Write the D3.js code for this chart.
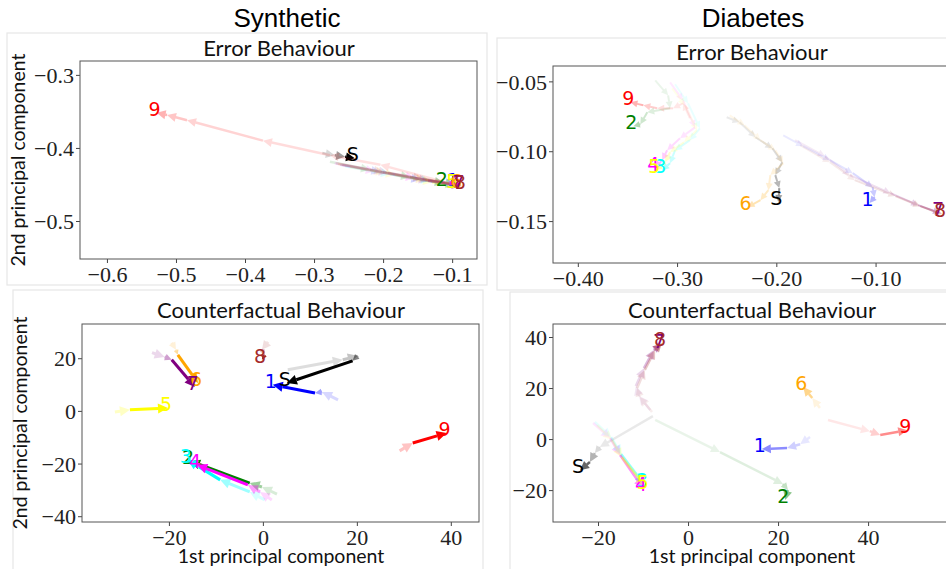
<!DOCTYPE html>
<html>
<head>
<meta charset="utf-8">
<script src="https://cdn.jsdelivr.net/npm/d3@7"></script>
<style>
  body { margin: 0; background: #fff; }
  svg { display: block; }
  .tick text { font-family: "Liberation Serif", serif; font-size: 22px; fill: #222; }
  .tick line { stroke: #444; }
  .ptitle { font-family: Lato, "Open Sans", sans-serif; font-size: 22px; fill: #111; }
  .alabel { font-family: Lato, "Open Sans", sans-serif; font-size: 19.5px; fill: #111; }
  .dtitle { font-family: "Liberation Sans", Arial, sans-serif; font-size: 26px; fill: #000; }
  .lbl { font-family: "DejaVu Sans", sans-serif; font-size: 19px; }
</style>
</head>
<body>
<svg id="chart" width="946" height="569"></svg>
<script>
// classes, in drawing order, and their colours
const classes = ["S", "1", "2", "3", "4", "5", "6", "7", "8", "9"];
const classColors = ["black", "blue", "green", "cyan", "magenta", "yellow", "orange", "purple", "brown", "red"];

// trajectories in PCA space (pc1, pc2), one per class, same order as classes
const synErrorPaths = [
  [[-0.288, -0.407], [-0.270, -0.410], [-0.255, -0.412], [-0.241, -0.414]],
  [[-0.262, -0.423], [-0.204, -0.433], [-0.146, -0.444], [-0.096, -0.449]],
  [[-0.277, -0.419], [-0.219, -0.430], [-0.161, -0.440], [-0.112, -0.448]],
  [[-0.255, -0.425], [-0.190, -0.436], [-0.132, -0.445], [-0.096, -0.451]],
  [[-0.270, -0.421], [-0.212, -0.432], [-0.154, -0.441], [-0.093, -0.451]],
  [[-0.248, -0.426], [-0.183, -0.437], [-0.129, -0.447], [-0.097, -0.451]],
  [[-0.265, -0.422], [-0.197, -0.434], [-0.139, -0.444], [-0.091, -0.451]],
  [[-0.259, -0.423], [-0.193, -0.434], [-0.135, -0.445], [-0.088, -0.452]],
  [[-0.268, -0.421], [-0.200, -0.433], [-0.143, -0.442], [-0.086, -0.452]],
  [[-0.110, -0.447], [-0.204, -0.423], [-0.277, -0.410], [-0.374, -0.390], [-0.484, -0.362], [-0.513, -0.355], [-0.528, -0.352]]
];
const diaErrorPaths = [
  [[-0.250, -0.0757], [-0.237, -0.0793], [-0.221, -0.0900], [-0.204, -0.0979], [-0.194, -0.1079], [-0.201, -0.1171], [-0.197, -0.1264], [-0.198, -0.1364]],
  [[-0.193, -0.0886], [-0.173, -0.0964], [-0.146, -0.1064], [-0.123, -0.1157], [-0.103, -0.1257], [-0.101, -0.1329], [-0.106, -0.1371]],
  [[-0.322, -0.0493], [-0.309, -0.0600], [-0.307, -0.0693], [-0.330, -0.0721], [-0.337, -0.0807], [-0.344, -0.0821]],
  [[-0.302, -0.0521], [-0.289, -0.0657], [-0.277, -0.0836], [-0.287, -0.0921], [-0.302, -0.0993], [-0.307, -0.1086], [-0.315, -0.1136]],
  [[-0.307, -0.0507], [-0.294, -0.0636], [-0.282, -0.0829], [-0.297, -0.0907], [-0.310, -0.0993], [-0.315, -0.1064], [-0.322, -0.1121]],
  [[-0.305, -0.0550], [-0.292, -0.0671], [-0.280, -0.0850], [-0.293, -0.0936], [-0.307, -0.1007], [-0.312, -0.1079], [-0.321, -0.1136]],
  [[-0.247, -0.0743], [-0.232, -0.0814], [-0.216, -0.0921], [-0.201, -0.0993], [-0.193, -0.1086], [-0.206, -0.1171], [-0.208, -0.1279], [-0.216, -0.1350], [-0.229, -0.1400]],
  [[-0.181, -0.0921], [-0.151, -0.1036], [-0.126, -0.1171], [-0.085, -0.1300], [-0.057, -0.1386], [-0.035, -0.1443]],
  [[-0.176, -0.0957], [-0.146, -0.1079], [-0.121, -0.1207], [-0.080, -0.1321], [-0.055, -0.1393], [-0.033, -0.1450]],
  [[-0.287, -0.0764], [-0.294, -0.0657], [-0.304, -0.0693], [-0.320, -0.0693], [-0.334, -0.0671], [-0.347, -0.0650]]
];
const synCfPaths = [
  [[5.3, 15.6], [17.0, 19.4], [20.2, 20.9], [19.1, 19.0], [5.1, 10.6]],
  [[16.0, 4.2], [12.6, 7.2], [11.1, 6.8], [2.1, 9.9]],
  [[3.0, -31.6], [-0.2, -28.9], [-2.8, -27.4], [-15.5, -19.0]],
  [[0.4, -33.8], [-2.8, -30.8], [-9.1, -26.2], [-16.0, -18.6]],
  [[1.9, -33.8], [-0.6, -30.8], [-3.2, -28.1], [-14.0, -20.5]],
  [[-31.5, -0.4], [-28.3, 0.4], [-20.2, 1.1]],
  [[-19.4, 25.9], [-18.5, 23.2], [-18.1, 21.3], [-13.8, 10.6]],
  [[-23.6, 22.1], [-20.9, 20.5], [-19.4, 19.4], [-14.5, 9.1]],
  [[1.1, 26.2], [-0.2, 23.2], [0.4, 21.3], [-0.2, 19.4]],
  [[29.1, -15.2], [31.9, -12.2], [39.1, -8.4]]
];
const diaCfPaths = [
  [[-7.8, 9.0], [-19.6, -3.1], [-20.7, -5.5], [-21.8, -9.0], [-24.0, -12.2]],
  [[27.1, 0.8], [24.9, -2.0], [22.0, -3.5], [16.4, -3.9]],
  [[-7.3, 7.5], [7.1, -5.1], [21.1, -17.6], [22.2, -20.0], [21.6, -23.9]],
  [[-20.7, 6.7], [-17.1, 0.8], [-14.9, -5.9], [-9.8, -17.6]],
  [[-21.1, 6.3], [-17.3, 0.4], [-15.1, -6.3], [-10.0, -19.2]],
  [[-20.2, 5.5], [-16.9, -0.4], [-14.7, -7.1], [-9.6, -18.4]],
  [[29.3, 12.2], [27.6, 16.1], [25.6, 20.4]],
  [[-8.4, 11.4], [-10.9, 16.9], [-11.6, 20.8], [-9.8, 27.8], [-7.6, 34.9], [-6.0, 36.9]],
  [[-8.0, 10.6], [-10.7, 16.5], [-11.3, 20.0], [-9.6, 27.1], [-7.3, 34.9], [-5.8, 37.6]],
  [[31.1, 7.5], [40.4, 3.1], [42.7, 1.6], [48.7, 3.5]]
];

const synErrorXTicks = [-0.6, -0.5, -0.4, -0.3, -0.2, -0.1];
const synErrorYTicks = [-0.3, -0.4, -0.5];
const diaErrorXTicks = [-0.4, -0.3, -0.2, -0.1];
const diaErrorYTicks = [-0.05, -0.10, -0.15];
const synCfXTicks = [-20, 0, 20, 40];
const synCfYTicks = [20, 0, -20, -40];
const diaCfXTicks = [-20, 0, 20, 40];
const diaCfYTicks = [40, 20, 0, -20];

const svg = d3.select("#chart");

// light frames around each sub-figure
const frames = [[7, 33, 480, 252], [497, 38, 460, 252], [13, 290, 470, 290], [510, 292, 450, 290]];
svg.selectAll("rect.frame").data(frames).enter().append("rect")
  .attr("x", d => d[0]).attr("y", d => d[1])
  .attr("width", d => d[2]).attr("height", d => d[3])
  .attr("fill", "none").attr("stroke", "#e6e6e6").attr("stroke-width", 1.2);

svg.append("text").attr("class", "dtitle").attr("x", 287).attr("y", 27)
  .attr("text-anchor", "middle").text("Synthetic");
svg.append("text").attr("class", "dtitle").attr("x", 753).attr("y", 27)
  .attr("text-anchor", "middle").text("Diabetes");

const panels = [
  { paths: synErrorPaths, left: 80, top: 61, w: 397, h: 198,
    xd: [-0.639, -0.064], yd: [-0.552, -0.281], xt: synErrorXTicks, yt: synErrorYTicks,
    fmt: d3.format(".1f"), title: "Error Behaviour", titleY: 56, ylabel: true, xlabel: false,
    lw: 2.5, head: 9, lo: 0.12, hi: 0.3, hiS: 1 },
  { paths: diaErrorPaths, left: 553, top: 66, w: 397, h: 197,
    xd: [-0.425, -0.025], yd: [-0.180, -0.039], xt: diaErrorXTicks, yt: diaErrorYTicks,
    fmt: d3.format(".2f"), title: "Error Behaviour", titleY: 60, ylabel: false, xlabel: false,
    lw: 2, head: 7, lo: 0.08, hi: 0.3, hiS: 0.4 },
  { paths: synCfPaths, left: 82, top: 324, w: 397, h: 198,
    xd: [-38.5, 46], yd: [-42.2, 33], xt: synCfXTicks, yt: synCfYTicks,
    fmt: d3.format("d"), title: "Counterfactual Behaviour", titleY: 318, ylabel: true, xlabel: true,
    lw: 3, head: 10, lo: 0.12, hi: 1, hiS: 1 },
  { paths: diaCfPaths, left: 553, top: 324, w: 397, h: 198,
    xd: [-30, 58.2], yd: [-32.5, 45.1], xt: diaCfXTicks, yt: diaCfYTicks,
    fmt: d3.format("d"), title: "Counterfactual Behaviour", titleY: 318, ylabel: false, xlabel: true,
    lw: 2.5, head: 9, lo: 0.08, hi: 0.45, hiS: 0.6 }
];

panels.forEach((p, pi) => {
  const x = d3.scaleLinear().domain(p.xd).range([0, p.w]);
  const y = d3.scaleLinear().domain(p.yd).range([p.h, 0]);
  const g = svg.append("g").attr("transform", `translate(${p.left},${p.top})`);

  const clipId = "clip" + pi;
  g.append("clipPath").attr("id", clipId).append("rect")
    .attr("width", p.w).attr("height", p.h);

  const plot = g.append("g").attr("clip-path", `url(#${clipId})`);

  p.paths.forEach((path, ci) => {
    const col = classColors[ci];
    const hi = ci === 0 ? p.hiS : p.hi;
    const nSeg = path.length - 1;
    for (let i = 0; i < nSeg; i++) {
      const t = (i + 1) / nSeg;
      const a = p.lo + (hi - p.lo) * Math.pow(t, 3);
      const x0 = x(path[i][0]), y0 = y(path[i][1]);
      const x1 = x(path[i + 1][0]), y1 = y(path[i + 1][1]);
      const dx = x1 - x0, dy = y1 - y0;
      const len = Math.hypot(dx, dy) || 1;
      const ux = dx / len, uy = dy / len;
      const hl = Math.min(p.head, len * 0.9);
      const hw = hl * 0.5;
      const bx = x1 - ux * hl, by = y1 - uy * hl;
      plot.append("line")
        .attr("x1", x0).attr("y1", y0).attr("x2", bx).attr("y2", by)
        .attr("stroke", col).attr("stroke-opacity", a).attr("stroke-width", p.lw);
      plot.append("path")
        .attr("d", `M${x1},${y1}L${bx - uy * hw},${by + ux * hw}L${bx + uy * hw},${by - ux * hw}Z`)
        .attr("fill", col).attr("fill-opacity", a);
    }
  });

  // class labels at the end of each trajectory
  p.paths.forEach((path, ci) => {
    const end = path[path.length - 1];
    g.append("text").attr("class", "lbl")
      .attr("x", x(end[0]) - 2).attr("y", y(end[1]) + 3)
      .attr("text-anchor", "middle")
      .attr("fill", classColors[ci])
      .text(classes[ci]);
  });

  const xa = g.append("g").attr("transform", `translate(0,${p.h})`)
    .call(d3.axisBottom(x).tickValues(p.xt).tickFormat(p.fmt).tickSize(4).tickSizeOuter(0).tickPadding(3));
  const ya = g.append("g")
    .call(d3.axisLeft(y).tickValues(p.yt).tickFormat(p.fmt).tickSize(4).tickSizeOuter(0).tickPadding(2));
  [xa, ya].forEach(a => a.select(".domain").remove());
  ya.selectAll(".tick text").attr("dy", "0.35em");

  g.append("rect").attr("width", p.w).attr("height", p.h)
    .attr("fill", "none").attr("stroke", "#555").attr("stroke-width", 1);

  svg.append("text").attr("class", "ptitle")
    .attr("x", p.left + 199).attr("y", p.titleY)
    .attr("text-anchor", "middle").text(p.title);

  if (p.ylabel) {
    svg.append("text").attr("class", "alabel")
      .attr("transform", `translate(${p.left - 55},${p.top + p.h / 2}) rotate(-90)`)
      .attr("text-anchor", "middle").text("2nd principal component");
  }
  if (p.xlabel) {
    svg.append("text").attr("class", "alabel")
      .attr("x", p.left + 199).attr("y", 563)
      .attr("text-anchor", "middle").text("1st principal component");
  }
});
</script>
</body>
</html>
